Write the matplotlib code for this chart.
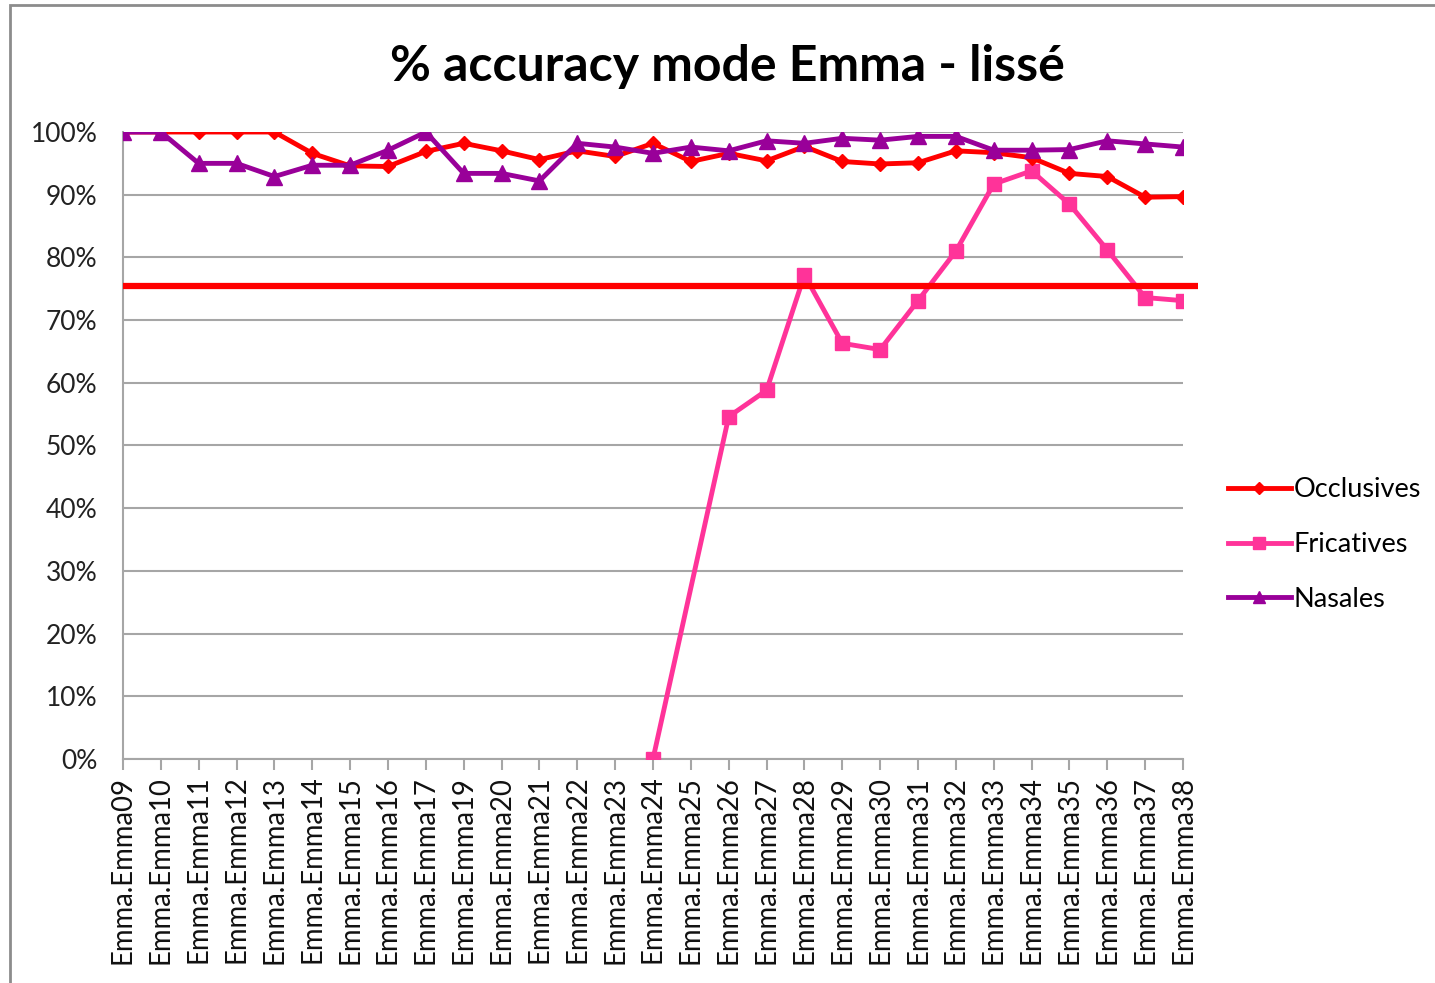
import numpy as np
import matplotlib
matplotlib.use('Agg')
import matplotlib.pyplot as plt
import matplotlib.patches as mpatches

# Donnees
categories = ['Emma.Emma09', 'Emma.Emma10', 'Emma.Emma11', 'Emma.Emma12', 'Emma.Emma13',
              'Emma.Emma14', 'Emma.Emma15', 'Emma.Emma16', 'Emma.Emma17', 'Emma.Emma19',
              'Emma.Emma20', 'Emma.Emma21', 'Emma.Emma22', 'Emma.Emma23', 'Emma.Emma24',
              'Emma.Emma25', 'Emma.Emma26', 'Emma.Emma27', 'Emma.Emma28', 'Emma.Emma29',
              'Emma.Emma30', 'Emma.Emma31', 'Emma.Emma32', 'Emma.Emma33', 'Emma.Emma34',
              'Emma.Emma35', 'Emma.Emma36', 'Emma.Emma37', 'Emma.Emma38']

occlusives = [100, 100, 100, 100, 100, 96.6, 94.6, 94.5, 96.9, 98.2,
              97.0, 95.6, 97.0, 96.1, 98.2, 95.3, 96.6, 95.4, 97.7, 95.3,
              94.9, 95.1, 97.0, 96.7, 95.9, 93.4, 92.9, 89.6, 89.7]

nan = np.nan
fricatives = [nan, nan, nan, nan, nan, nan, nan, nan, nan, nan,
              nan, nan, nan, nan, 0.0, nan, 54.6, 58.8, 77.2, 66.3,
              65.3, 73.1, 81.0, 91.7, 93.8, 88.5, 81.2, 73.6, 73.1]

nasales = [100, 100, 95.0, 95.0, 92.9, 94.7, 94.7, 97.1, 100, 93.4,
           93.4, 92.2, 98.2, 97.6, 96.6, 97.6, 97.0, 98.6, 98.2, 99.0,
           98.7, 99.3, 99.3, 97.1, 97.1, 97.2, 98.6, 98.1, 97.6]

seuil = 75.5

plt.rcParams['font.family'] = ['Lato', 'DejaVu Sans']

fig = plt.figure(figsize=(14.35, 9.83), dpi=100)
ax = fig.add_axes([0.0857, 0.2279, 0.7387, 0.6378])

x = np.arange(len(categories))

ax.plot(x, occlusives, color='#FF0000', lw=3.5, marker='D', ms=7,
        label='Occlusives', zorder=4)

fr = np.array(fricatives, dtype=float)
ok = ~np.isnan(fr)
ax.plot(x[ok], fr[ok], color='#FF3399', lw=3.5, marker='s', ms=10,
        label='Fricatives', zorder=3)

ax.plot(x, nasales, color='#990099', lw=3.5, marker='^', ms=11,
        label='Nasales', zorder=5)

# trait rouge horizontal (seuil)
ax.plot([0, 28.4], [seuil, seuil], color='#FF0000', lw=4.5,
        clip_on=False, solid_capstyle='butt', zorder=6)

ax.set_xlim(0, len(categories) - 1)
ax.set_ylim(0, 100)
ax.set_yticks(np.arange(0, 101, 10))
ax.set_yticklabels([f'{v}%' for v in range(0, 101, 10)], fontsize=19, color='#222222')
ax.set_xticks(x)
ax.set_xticklabels(categories, rotation=90, fontsize=19.8, color='#111111')

ax.grid(axis='y', color='#A6A6A6', lw=1.5)
ax.set_axisbelow(True)
for s in ['top', 'right']:
    ax.spines[s].set_visible(False)
ax.spines['left'].set_color('#A6A6A6')
ax.spines['bottom'].set_color('#A6A6A6')
ax.spines['left'].set_linewidth(1.5)
ax.spines['bottom'].set_linewidth(1.5)
ax.tick_params(axis='x', direction='out', length=8, width=1.5, color='#A6A6A6', pad=4)
ax.tick_params(axis='y', length=0, pad=18.5)

fig.text(0.507, 0.932, '% accuracy mode Emma - lissé', ha='center', va='center',
         fontsize=36, fontweight='bold', color='#000000')

handles = [
    plt.Line2D([], [], color='#FF0000', lw=3.5, marker='D', ms=6),
    plt.Line2D([], [], color='#FF3399', lw=3.5, marker='s', ms=8),
    plt.Line2D([], [], color='#990099', lw=3.5, marker='^', ms=9),
]
fig.legend(handles, ['Occlusives', 'Fricatives', 'Nasales'],
           loc='center left', bbox_to_anchor=(0.839, 0.446), frameon=False,
           fontsize=19.5, handlelength=2.3, handletextpad=0.1, labelspacing=1.1)

# bordure du graphique
fig.patches.append(mpatches.Rectangle((10 / 1435, -0.1), 1.2, 1 - 5 / 983 + 0.1,
                                      transform=fig.transFigure, fill=False,
                                      edgecolor='#8C8C8C', lw=2))

fig.savefig('out.png', dpi=100, facecolor='white')
plt.close(fig)
